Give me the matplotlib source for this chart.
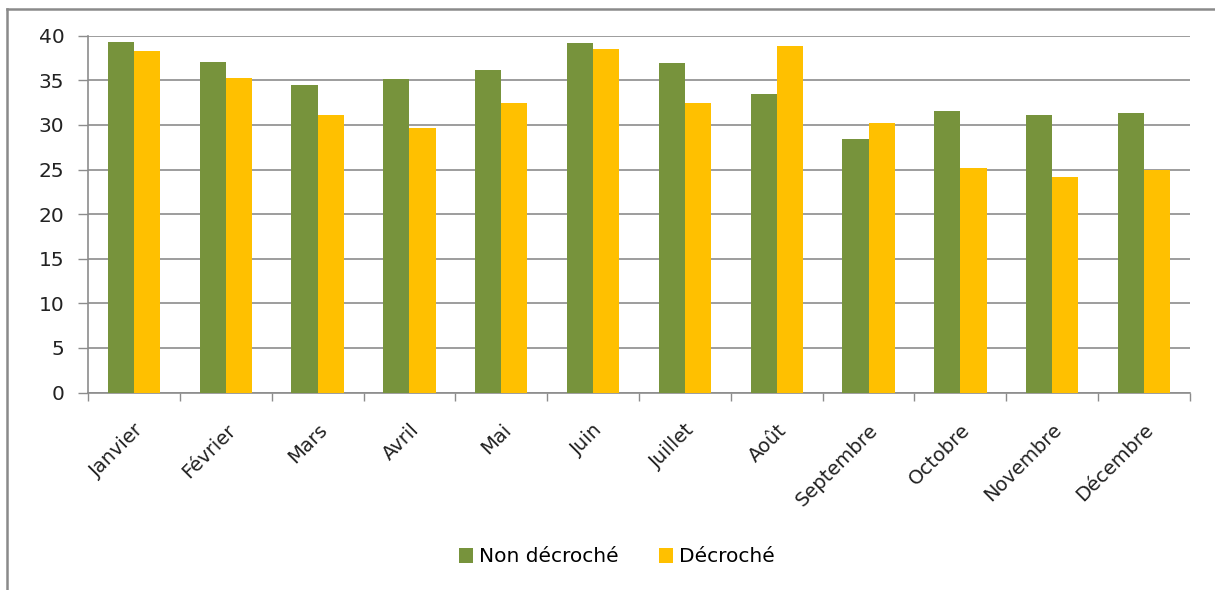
import matplotlib
matplotlib.use("Agg")
import matplotlib.pyplot as plt
import numpy as np
from matplotlib.lines import Line2D

months = ["Janvier", "Février", "Mars", "Avril", "Mai", "Juin", "Juillet",
          "Août", "Septembre", "Octobre", "Novembre", "Décembre"]
non_decroche = [39.3, 37.1, 34.5, 35.2, 36.2, 39.2, 36.9, 33.5, 28.4, 31.6, 31.1, 31.3]
decroche = [38.3, 35.3, 31.1, 29.7, 32.5, 38.5, 32.5, 38.9, 30.2, 25.2, 24.2, 25.0]
series_names = ["Non décroché", "Décroché"]
yticks = [0, 5, 10, 15, 20, 25, 30, 35, 40]

GREEN = "#77933C"
YELLOW = "#FFC000"
GRID = "#8C8C8C"

plt.rcParams['font.family'] = ['DejaVu Sans']

W, H = 1215, 590
fig = plt.figure(figsize=(W / 100, H / 100), dpi=100)
ax = fig.add_axes([88 / W, 1 - 392.5 / H, (1190 - 88) / W, (392.5 - 35.7) / H])

x = np.arange(len(months))
bw = 0.285
ax.bar(x - bw / 2, non_decroche, width=bw, color=GREEN, label=series_names[0], zorder=3)
ax.bar(x + bw / 2, decroche, width=bw, color=YELLOW, label=series_names[1], zorder=3)

ax.set_xlim(-0.5, len(months) - 0.5)
ax.set_ylim(0, 40)
ax.set_yticks(yticks)
ax.set_yticklabels([str(v) for v in yticks], fontsize=14.5, color="#222222")
ax.yaxis.grid(True, color=GRID, linewidth=1.2, zorder=0)
ax.set_axisbelow(True)

ax.set_xticks(x)
ax.set_xticklabels(months, rotation=45, ha="right", va="top",
                   rotation_mode="anchor", fontsize=14, color="#222222")
ax.tick_params(axis="x", which="major", length=0, pad=20)
ax.set_xticks(np.arange(-0.5, len(months)), minor=True)
ax.tick_params(axis="x", which="minor", length=6, color=GRID, width=1)
ax.tick_params(axis="y", length=7, color=GRID, width=1, pad=10)

for s in ["top", "right"]:
    ax.spines[s].set_visible(False)
for s in ["left", "bottom"]:
    ax.spines[s].set_color(GRID)
    ax.spines[s].set_linewidth(1.2)

fig.legend(loc="center", bbox_to_anchor=(617 / W, 1 - 557 / H), ncol=2,
           frameon=False, fontsize=14.5, handlelength=0.7, handleheight=0.7,
           handletextpad=0.3, columnspacing=2.0)

# outer chart border
fig.add_artist(Line2D([6.5 / W, 6.5 / W], [0, 1 - 9 / H], transform=fig.transFigure,
                      color="#8A8A8A", linewidth=1.8))
fig.add_artist(Line2D([6.5 / W, 1], [1 - 9 / H, 1 - 9 / H], transform=fig.transFigure,
                      color="#8A8A8A", linewidth=1.8))

fig.savefig("out.png", dpi=100)
